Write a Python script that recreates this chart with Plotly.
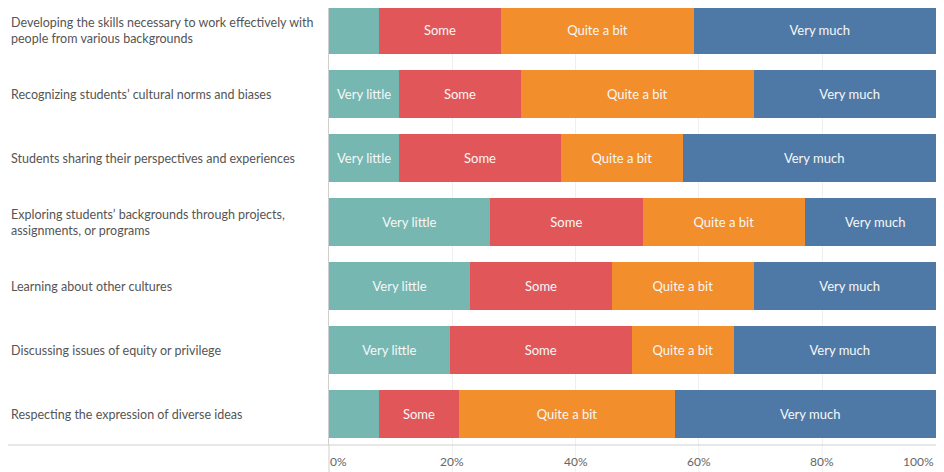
import plotly.graph_objects as go

items = [
    "Developing the skills necessary to work effectively with<br>people from various backgrounds",
    "Recognizing students’ cultural norms and biases",
    "Students sharing their perspectives and experiences",
    "Exploring students’ backgrounds through projects,<br>assignments, or programs",
    "Learning about other cultures",
    "Discussing issues of equity or privilege",
    "Respecting the expression of diverse ideas",
]
levels = ["Very little", "Some", "Quite a bit", "Very much"]
very_little = [8.1, 11.4, 11.4, 26.1, 22.9, 19.6, 8.1]
some        = [19.8, 19.7, 26.2, 24.8, 23.0, 29.5, 13.0]
quite_a_bit = [31.3, 37.8, 19.8, 26.3, 23.0, 16.6, 35.0]
very_much   = [40.8, 31.1, 42.6, 22.8, 31.1, 34.3, 43.9]
colors = ["#76B7B2", "#E15759", "#F28E2B", "#4E79A7"]
tick_vals = [0, 20, 40, 60, 80, 100]
tick_text = ["0%", "20%", "40%", "60%", "80%", "100%"]

series = [very_little, some, quite_a_bit, very_much]
ypos = list(range(len(items)))

W, H = 928, 464
L, B = 321, 27
PW, PH = W - L, H - B

fig = go.Figure()
for name, vals, col in zip(levels, series, colors):
    fig.add_trace(go.Bar(
        y=ypos, x=vals, orientation="h", name=name,
        marker=dict(color=col, line=dict(width=0)),
        text=[name] * len(vals), textposition="inside",
        insidetextanchor="middle",
        textfont=dict(color="#F7F7F7", size=13, family="Lato"),
        hoverinfo="skip",
    ))

XMAX = 98.46
fig.update_layout(
    barmode="stack", bargap=0.258,
    width=W, height=H,
    margin=dict(l=L, r=0, t=0, b=B),
    plot_bgcolor="white", paper_bgcolor="white",
    showlegend=False,
    uniformtext=dict(minsize=13, mode="hide"),
    font=dict(family="Lato", color="#555555"),
    xaxis=dict(range=[0, XMAX], tickvals=tick_vals, showticklabels=False,
               showgrid=True, gridcolor="#EFEFEF", gridwidth=1, zeroline=False,
               fixedrange=True),
    yaxis=dict(range=[6.484, -0.344], showticklabels=False,
               showgrid=False, zeroline=False, showline=True,
               linecolor="#CFCFCF", linewidth=1, fixedrange=True),
)

# category labels, left-aligned
for i, lab in enumerate(items):
    fig.add_annotation(x=0, xref="paper", y=i, yref="y", text=lab,
                       xanchor="left", yanchor="middle", align="left",
                       xshift=-320, showarrow=False,
                       font=dict(size=12.5, color="#555555", family="Lato"))

# x tick labels
for v, t in zip(tick_vals, tick_text):
    if v == 0:
        xa, xs = "left", -1
    elif v == 100:
        xa, xs = "right", 0
    else:
        xa, xs = "center", 0
    fig.add_annotation(x=min(v, XMAX), xref="x", y=0, yref="paper", yshift=-7,
                       text=t, xanchor=xa, yanchor="top", xshift=xs,
                       showarrow=False,
                       font=dict(size=12, color="#666666", family="Lato"))

# gridlines continuing into tick area
for v in tick_vals[1:-1]:
    fig.add_shape(type="line", xref="x", yref="paper", x0=v, x1=v,
                  y0=0, y1=-B / PH, line=dict(color="#EFEFEF", width=1))

# divider lines
fig.add_shape(type="line", xref="paper", yref="paper",
              x0=-L / PW, x1=1, y0=0, y1=0,
              line=dict(color="#CFCFCF", width=1))
fig.add_shape(type="line", xref="paper", yref="paper",
              x0=0, x1=0, y0=0, y1=-B / PH,
              line=dict(color="#CFCFCF", width=1))

fig.write_html("out.html")
